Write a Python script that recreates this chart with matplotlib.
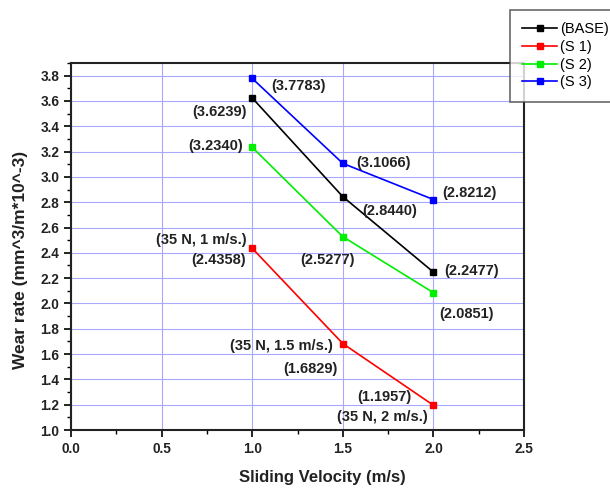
import matplotlib
matplotlib.use("Agg")
import matplotlib.pyplot as plt
from matplotlib.ticker import MultipleLocator

plt.rcParams['font.family'] = ['Liberation Sans', 'DejaVu Sans']

velocity = [1.0, 1.5, 2.0]
series_names = ["(BASE)", "(S 1)", "(S 2)", "(S 3)"]
base = [3.6239, 2.8440, 2.2477]
s1 = [2.4358, 1.6829, 1.1957]
s2 = [3.2340, 2.5277, 2.0851]
s3 = [3.7783, 3.1066, 2.8212]
colors = ["#000000", "#ff0000", "#00ee00", "#0000ff"]

# annotation texts and their data positions (x, y)
label_texts = ["(3.7783)", "(3.6239)", "(3.2340)", "(3.1066)", "(2.8440)",
               "(35 N, 1 m/s.)", "(2.4358)", "(2.5277)", "(35 N, 1.5 m/s.)",
               "(1.6829)", "(2.8212)", "(2.2477)", "(2.0851)", "(1.1957)",
               "(35 N, 2 m/s.)"]
label_x = [1.253, 0.822, 0.80, 1.722, 1.76, 0.718, 0.812, 1.418, 1.159,
           1.32, 2.197, 2.213, 2.185, 1.727, 1.72]
label_y = [3.72, 3.516, 3.248, 3.106, 2.727, 2.498, 2.34, 2.34, 1.66,
           1.48, 2.87, 2.254, 1.915, 1.26, 1.10]

fig = plt.figure(figsize=(6.1, 4.88), dpi=100)
ax = fig.add_axes([71/610, 1-430/488, (524-71)/610, (430-63)/488])

for name, vals, c in zip(series_names, [base, s1, s2, s3], colors):
    ax.plot(velocity, vals, color=c, lw=1.2, marker='s', markersize=5,
            markeredgecolor=c, markerfacecolor=c, label=name, zorder=3)

for t, x, y in zip(label_texts, label_x, label_y):
    ax.text(x, y, t, ha='center', va='center', fontsize=10.5, fontweight='bold',
            color='#222222', zorder=4)

ax.set_xlim(0, 2.5)
ax.set_ylim(1.0, 3.9)
ax.xaxis.set_minor_locator(MultipleLocator(0.25))
ax.yaxis.set_minor_locator(MultipleLocator(0.1))
xt = [0.0, 0.5, 1.0, 1.5, 2.0, 2.5]
yt = [1.0 + 0.2*i for i in range(15)]
ax.set_xticks(xt)
ax.set_yticks(yt)
ax.set_xticklabels(["%.1f" % v for v in xt])
ax.set_yticklabels(["%.1f" % v for v in yt])
ax.grid(True, which='major', color='#a8a8ff', lw=0.8)
ax.set_axisbelow(True)

ax.tick_params(which='major', direction='out', length=5, width=1.2,
               labelsize=9.8, top=False, right=False)
ax.tick_params(which='minor', direction='out', length=3, width=1,
               top=False, right=False)
for lab in ax.get_xticklabels() + ax.get_yticklabels():
    lab.set_fontweight('bold')
    lab.set_color('#222222')
for sp in ax.spines.values():
    sp.set_linewidth(1.5)
    sp.set_color('#222222')

ax.set_xlabel("Sliding Velocity (m/s)", fontsize=12, fontweight='bold', color='#222222')
ax.set_ylabel("Wear rate (mm^3/m*10^-3)", fontsize=12.5, fontweight='bold', color='#222222')
ax.xaxis.set_label_coords(0.554, -0.109)
ax.yaxis.set_label_coords(-0.095, 0.463)

leg = fig.legend(loc='upper left', bbox_to_anchor=(510/610, 1-10/488),
                 bbox_transform=fig.transFigure, fontsize=10.5, frameon=True,
                 fancybox=False, handlelength=2.4, handletextpad=0.2,
                 borderpad=0.85, labelspacing=0.25, borderaxespad=0)
leg.get_frame().set_edgecolor('#444444')
leg.get_frame().set_linewidth(1.2)

fig.savefig("out.png", dpi=100)
